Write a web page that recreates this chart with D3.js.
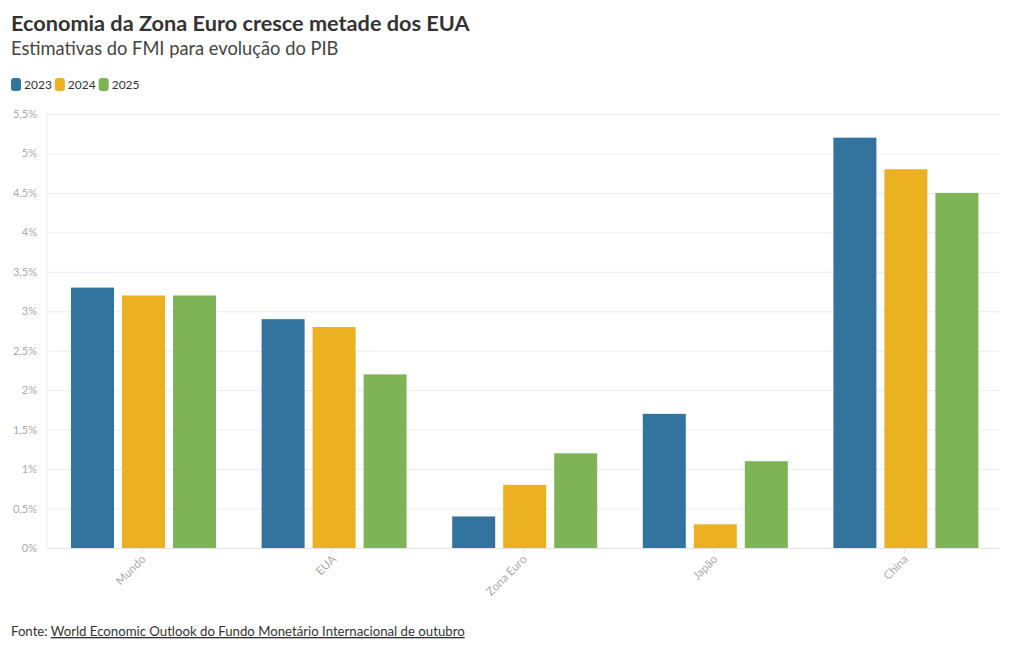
<!DOCTYPE html>
<html><head><meta charset="utf-8">
<script src="https://cdn.jsdelivr.net/npm/d3@7"></script>
<style>
body{margin:0;background:#fff;}
svg{display:block;font-family:"Lato","Open Sans",sans-serif;}
</style></head>
<body><svg id="c" width="1020" height="650"></svg>
<script>
const categories = ["Mundo","EUA","Zona Euro","Japão","China"];
const years = ["2023","2024","2025"];
const values2023 = [3.3, 2.9, 0.4, 1.7, 5.2];
const values2024 = [3.2, 2.8, 0.8, 0.3, 4.8];
const values2025 = [3.2, 2.2, 1.2, 1.1, 4.5];
const yTicks = [0,0.5,1,1.5,2,2.5,3,3.5,4,4.5,5,5.5];
const colors = ["#33749f","#ecb120","#7fb456"];

const series = [values2023, values2024, values2025];
const svg = d3.select("#c");
const L = 47, R = 1000, T = 114, B = 548;

const x0 = d3.scaleBand().domain(categories).range([L, R]).padding(0);
const x1 = d3.scaleBand().domain(years).range([24, 169]).paddingInner(8/51).paddingOuter(0);
const y = d3.scaleLinear().domain([0, 5.5]).range([B, T]);
const fmt = v => String(v).replace(".", ",") + "%";

// title
svg.append("text").attr("x", 11).attr("y", 31).attr("font-size", 21.7).attr("font-weight", 700)
  .attr("fill", "#333").text("Economia da Zona Euro cresce metade dos EUA");
svg.append("text").attr("x", 11).attr("y", 55).attr("font-size", 18.3).attr("fill", "#444")
  .text("Estimativas do FMI para evolução do PIB");

// legend
let lx = 11;
years.forEach((yr, i) => {
  svg.append("rect").attr("x", lx).attr("y", 78).attr("width", 10).attr("height", 13).attr("rx", 3)
    .attr("fill", colors[i]);
  const t = svg.append("text").attr("x", lx + 13).attr("y", 89).attr("font-size", 12).attr("fill", "#333").text(yr);
  lx += 13 + t.node().getComputedTextLength() + 3;
});

// grid
const gy = svg.append("g").attr("transform", `translate(${L},0)`)
  .call(d3.axisLeft(y).tickValues(yTicks).tickFormat(fmt).tickSize(-(R - L)).tickPadding(10));
gy.select(".domain").remove();
gy.selectAll(".tick line").attr("stroke", "#ececec");
gy.selectAll(".tick text").attr("fill", "#aaa").attr("font-size", 11).attr("font-family", "Lato, sans-serif");
svg.append("line").attr("x1", L).attr("x2", L).attr("y1", T).attr("y2", B).attr("stroke", "#ececec");

// bars
const g = svg.append("g");
categories.forEach((c, ci) => {
  series.forEach((s, si) => {
    g.append("rect")
      .attr("x", x0(c) + x1(years[si]))
      .attr("y", y(s[ci]))
      .attr("width", x1.bandwidth())
      .attr("height", y(0) - y(s[ci]))
      .attr("fill", colors[si]);
  });
});

// x axis
const gx = svg.append("g").attr("transform", `translate(0,${B})`)
  .call(d3.axisBottom(x0).tickSize(5).tickSizeOuter(0));
gx.select(".domain").attr("stroke", "#e6e6e6");
gx.selectAll(".tick line").attr("stroke", "#e6e6e6");
gx.selectAll(".tick text").attr("fill", "#aaa").attr("font-size", 11.5).attr("font-family", "Lato, sans-serif")
  .attr("text-anchor", "end").attr("dy", 0).attr("y", 0)
  .attr("transform", "translate(4,12) rotate(-45)");

// footer
const f = svg.append("text").attr("x", 11).attr("y", 636).attr("font-size", 13.2).attr("fill", "#333");
f.append("tspan").text("Fonte: ");
f.append("tspan").attr("text-decoration", "underline").text("World Economic Outlook do Fundo Monetário Internacional de outubro");
</script></body></html>
